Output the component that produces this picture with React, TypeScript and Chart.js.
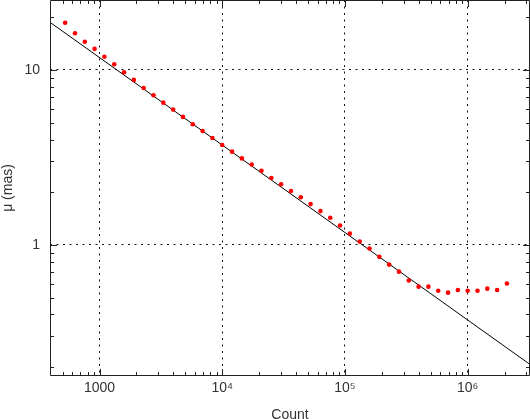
import React, { useEffect, useRef } from 'react';
import { Chart, registerables } from 'chart.js';

Chart.register(...registerables);

// Binned counts (x)
const counts = [
  524.8, 631.0, 758.6, 912.0, 1096, 1318, 1585, 1905, 2291, 2754,
  3311, 3981, 4786, 5754, 6918, 8318, 10000, 12023, 14454, 17378,
  20893, 25119, 30200, 36308, 43652, 52481, 63096, 75858, 91201, 109648,
  131826, 158489, 190546, 229087, 275423, 331131, 398107, 478630, 575440, 691831,
  831764, 1000000, 1202264, 1445440, 1737801, 2089296,
];
// Measured mu (mas)
const mu = [
  18.6, 16.2, 14.5, 13.2, 11.9, 10.77, 9.69, 8.77, 7.89, 7.16,
  6.50, 5.93, 5.39, 4.89, 4.48, 4.08, 3.72, 3.41, 3.12, 2.88,
  2.65, 2.41, 2.22, 2.03, 1.87, 1.71, 1.56, 1.43, 1.29, 1.16,
  1.045, 0.953, 0.854, 0.771, 0.703, 0.625, 0.577, 0.577, 0.547, 0.533,
  0.552, 0.547, 0.547, 0.562, 0.552, 0.601,
];
// Reference line (slope -1/2) end points
const fitCounts = [395, 3220000];
const fitMu = [18.72, 0.2073];

const xMajorTicks = [1000, 1e4, 1e5, 1e6];
const xTickLabels = ['1000', '10\u2074', '10\u2075', '10\u2076'];
const yMajorTicks = [1, 10];
const yTickLabels = ['1', '10'];
const xRange = [395, 3220000];
const yRange = [0.178, 25.1];

const AXIS_COLOR = '#222';
const TEXT_COLOR = '#333';
const FONT = 'Liberation Sans, Arial, Helvetica, sans-serif';

const frameTicks = {
  id: 'frameTicks',
  afterDraw(chart: any) {
    const { ctx, chartArea, scales } = chart;
    const { left, right, top, bottom } = chartArea;
    const x = scales.x;
    const y = scales.y;
    ctx.save();
    ctx.strokeStyle = AXIS_COLOR;
    ctx.lineWidth = 1;
    ctx.beginPath();
    ctx.rect(left + 0.5, top + 0.5, right - left - 1, bottom - top - 1);
    ctx.stroke();
    ctx.beginPath();
    for (let e = 2; e <= 6; e++) {
      for (let k = 1; k <= 9; k++) {
        const v = k * Math.pow(10, e);
        if (v <= x.min || v >= x.max) continue;
        const px = Math.round(x.getPixelForValue(v)) + 0.5;
        if (px < left + 2 || px > right - 2) continue;
        const len = k === 1 ? 7 : 4;
        ctx.moveTo(px, bottom);
        ctx.lineTo(px, bottom - len);
        ctx.moveTo(px, top);
        ctx.lineTo(px, top + len);
      }
    }
    for (let e = -1; e <= 1; e++) {
      for (let k = 1; k <= 9; k++) {
        const v = k * Math.pow(10, e);
        if (v <= y.min || v >= y.max) continue;
        const py = Math.round(y.getPixelForValue(v)) + 0.5;
        if (py < top + 2 || py > bottom - 2) continue;
        const len = k === 1 ? 7 : 4;
        ctx.moveTo(left, py);
        ctx.lineTo(left + len, py);
        ctx.moveTo(right, py);
        ctx.lineTo(right - len, py);
      }
    }
    ctx.stroke();
    ctx.restore();
  },
};

export default function App() {
  const ref = useRef<HTMLCanvasElement | null>(null);

  useEffect(() => {
    if (!ref.current) return;
    const chart = new Chart(ref.current, {
      type: 'scatter',
      data: {
        datasets: [
          {
            label: 'mu',
            data: counts.map((c, i) => ({ x: c, y: mu[i] })),
            backgroundColor: '#ff0000',
            borderColor: '#ff0000',
            pointRadius: 2.3,
            pointBorderWidth: 0,
            showLine: false,
          },
          {
            label: 'fit',
            data: fitCounts.map((c, i) => ({ x: c, y: fitMu[i] })),
            borderColor: '#000',
            borderWidth: 1,
            pointRadius: 0,
            showLine: true,
            fill: false,
          },
        ],
      },
      options: {
        responsive: false,
        animation: false,
        layout: { padding: 0, autoPadding: false },
        plugins: {
          legend: { display: false },
          tooltip: { enabled: false },
        },
        scales: {
          x: {
            type: 'logarithmic',
            position: 'bottom',
            min: xRange[0],
            max: xRange[1],
            afterBuildTicks: (s: any) => {
              s.ticks = xMajorTicks.map((v) => ({ value: v, major: true }));
            },
            afterFit: (s: any) => {
              s.height = 43;
              s.paddingLeft = 0;
              s.paddingRight = 0;
            },
            ticks: {
              autoSkip: false,
              maxRotation: 0,
              padding: 4,
              color: TEXT_COLOR,
              font: { family: FONT, size: 14 },
              callback: (v: any) => {
                const i = xMajorTicks.indexOf(Number(v));
                return i >= 0 ? xTickLabels[i] : '';
              },
            },
            grid: { color: '#111', lineWidth: 1, drawTicks: false },
            border: { display: false, dash: [2, 4.5] },
            title: {
              display: true,
              text: 'Count',
              color: TEXT_COLOR,
              font: { family: FONT, size: 14, lineHeight: 1 },
              padding: { top: 0, bottom: -3 },
            },
          },
          y: {
            type: 'logarithmic',
            position: 'left',
            min: yRange[0],
            max: yRange[1],
            afterBuildTicks: (s: any) => {
              s.ticks = yMajorTicks.map((v) => ({ value: v, major: true }));
            },
            afterFit: (s: any) => {
              s.width = 50;
              s.paddingTop = 0;
              s.paddingBottom = 0;
            },
            ticks: {
              autoSkip: false,
              padding: 10,
              color: TEXT_COLOR,
              font: { family: FONT, size: 14 },
              callback: (v: any) => {
                const i = yMajorTicks.indexOf(Number(v));
                return i >= 0 ? yTickLabels[i] : '';
              },
            },
            grid: { color: '#111', lineWidth: 1, drawTicks: false },
            border: { display: false, dash: [2, 4.5] },
            title: {
              display: true,
              text: '\u03bc (mas)',
              color: TEXT_COLOR,
              font: { family: FONT, size: 14, lineHeight: 1.2 },
              padding: 0,
            },
          },
        },
      },
      plugins: [frameTicks],
    });
    return () => chart.destroy();
  }, []);

  return (
    <div style={{ position: 'fixed', left: 0, top: 0, width: 530, height: 419, background: '#fff' }}>
      <canvas ref={ref} width={530} height={419} style={{ display: 'block' }} />
    </div>
  );
}
